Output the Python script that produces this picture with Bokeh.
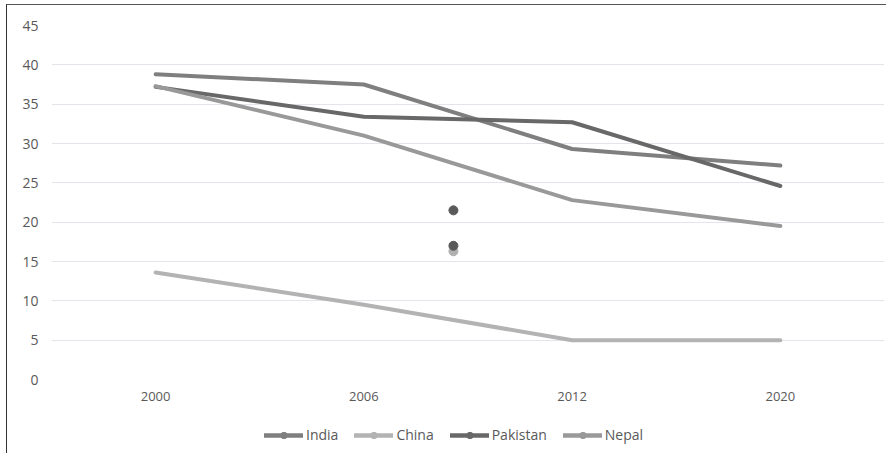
from bokeh.plotting import figure
from bokeh.layouts import column
from bokeh.models import Range1d, FixedTicker, Legend, LegendItem, ColumnDataSource
from bokeh.embed import file_html
from bokeh.resources import INLINE

years = ["2000", "2006", "2012", "2020"]
india = [38.8, 37.5, 29.3, 27.2]
china = [13.6, 9.5, 5.0, 5.0]
pakistan = [37.2, 33.4, 32.7, 24.6]
nepal = [37.3, 31.0, 22.8, 19.5]
y_ticks = [0, 5, 10, 15, 20, 25, 30, 35, 40, 45]

# stray markers visible in the reference between 2006 and 2012
# (position given as category index + fraction)
stray_x = [1.93, 1.93, 1.93]
stray_y = [21.5, 16.3, 17.0]
stray_c = ["#595959", "#b0b0b0", "#595959"]

series = [
    ("India", india, "#7f7f7f"),
    ("China", china, "#b3b3b3"),
    ("Pakistan", pakistan, "#686868"),
    ("Nepal", nepal, "#999999"),
]

FONT = "Open Sans"
TXT = "#595959"
W = 879

xpos = [i + 0.5 for i in range(len(years))]

p = figure(width=W, height=404, x_range=Range1d(0, len(years)),
           y_range=Range1d(0, 45), output_backend="svg", toolbar_location=None,
           min_border_left=44, min_border_top=20, min_border_right=2,
           min_border_bottom=30)
p.outline_line_color = None
p.xgrid.grid_line_color = None
p.ygrid.grid_line_color = "#e2e5ea"
p.ygrid.grid_line_width = 1
p.yaxis.ticker = FixedTicker(ticks=y_ticks)
p.xaxis.ticker = FixedTicker(ticks=xpos)
p.xaxis.major_label_overrides = {x: y for x, y in zip(xpos, years)}

for ax in (p.xaxis[0], p.yaxis[0]):
    ax.axis_line_color = None
    ax.major_tick_line_color = None
    ax.minor_tick_line_color = None
    ax.major_tick_out = 0
    ax.major_tick_in = 0
    ax.major_label_text_font = FONT
    ax.major_label_text_color = TXT
p.xaxis.major_label_text_font_size = "13px"
p.yaxis.major_label_text_font_size = "14px"
p.yaxis.major_label_standoff = 13
p.xaxis.major_label_standoff = 12

for name, vals, col in series:
    p.line(xpos, vals, line_color=col, line_width=4, line_cap="round",
           line_join="round")

src = ColumnDataSource(dict(x=stray_x, y=stray_y, c=stray_c))
p.scatter(x="x", y="y", source=src, size=9, fill_color="c", line_color="c",
          marker="circle")

# legend strip below the chart: the same series are drawn here, but lie
# outside this strip's (0..1) value window, so only their legend swatches show
lf = figure(width=W, height=44, x_range=Range1d(0, 1), y_range=Range1d(0, 1),
            output_backend="svg", toolbar_location=None,
            x_axis_location=None, y_axis_location=None,
            min_border_left=0, min_border_right=0, min_border_top=0,
            min_border_bottom=0)
lf.outline_line_color = None
lf.grid.visible = False

items = []
for name, vals, col in series:
    r = lf.line(xpos, vals, line_color=col, line_width=4.5, line_cap="round")
    m = lf.scatter(xpos, vals, size=8, fill_color=col, line_color=col,
                   marker="circle")
    items.append(LegendItem(label=name, renderers=[r, m]))

legend = Legend(items=items, orientation="horizontal", location=(213, 9),
                glyph_width=39, glyph_height=16, label_standoff=3, spacing=16,
                padding=0, margin=0, border_line_color=None,
                background_fill_alpha=0, label_text_font=FONT,
                label_text_font_size="14px", label_text_color=TXT,
                label_height=16)
lf.add_layout(legend)

layout = column(p, lf, spacing=0)
layout.styles = {"border-top": "1px solid #555555",
                 "border-left": "1px solid #333333",
                 "margin-left": "6px", "margin-top": "4px"}

open("out.html", "w").write(file_html(layout, INLINE))
